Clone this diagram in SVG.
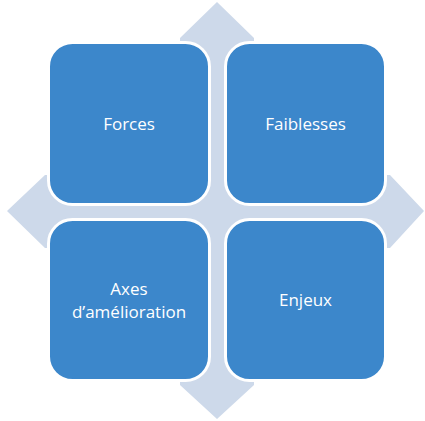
<svg xmlns="http://www.w3.org/2000/svg" width="425" height="421" viewBox="0 0 425 421">
  <style>
    .bg { fill: #CDD9EA; }
    .box { fill: #3C87CB; stroke: #FFFFFF; stroke-width: 3; }
    .lbl { font-family: "Open Sans", "Noto Sans", "DejaVu Sans", sans-serif; font-size: 17px; fill: #FFFFFF; text-anchor: middle; }
  </style>
  <rect width="425" height="421" fill="#FFFFFF"/>
  <g id="quad-arrow">
    <polygon class="bg" points="217,2 254,38 254,175 390,175 424,211 390,248 254,248 254,385 217,419 180,385 180,248 45,248 7,211 45,175 180,175 180,38"/>
  </g>
  <g id="connectors"></g>
  <g id="forces">
    <rect class="box" x="48.5" y="42.5" width="161" height="162" rx="24"/>
    <text class="lbl" x="129" y="130">Forces</text>
  </g>
  <g id="faiblesses">
    <rect class="box" x="225.5" y="42.5" width="160" height="162" rx="24"/>
    <text class="lbl" x="305.5" y="130">Faiblesses</text>
  </g>
  <g id="axes">
    <rect class="box" x="48.5" y="219.5" width="161" height="161" rx="24"/>
    <text class="lbl" x="129" y="295">Axes</text>
    <text class="lbl" x="129" y="318">d’amélioration</text>
  </g>
  <g id="enjeux">
    <rect class="box" x="225.5" y="219.5" width="160" height="161" rx="24"/>
    <text class="lbl" x="305.5" y="306">Enjeux</text>
  </g>
</svg>
